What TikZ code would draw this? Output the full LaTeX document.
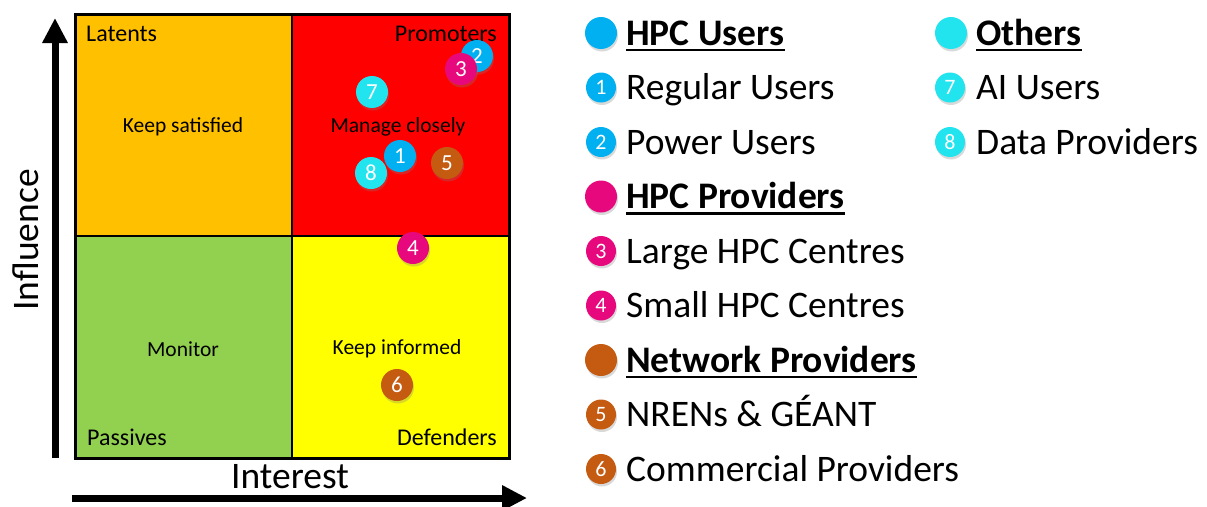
\documentclass[tikz,border=0pt]{standalone}
\usepackage{fontspec}
\setmainfont{Carlito}
\usetikzlibrary{arrows.meta,shadows}
\definecolor{qorange}{HTML}{FFC000}
\definecolor{qred}{HTML}{FF0000}
\definecolor{qgreen}{HTML}{92D050}
\definecolor{qyellow}{HTML}{FFFF00}
\definecolor{users}{HTML}{00B0F0}
\definecolor{providers}{HTML}{E8087E}
\definecolor{network}{HTML}{C55A11}
\definecolor{others}{HTML}{22E4EE}
\begin{document}
\begin{tikzpicture}[x=1pt,y=-1pt,
  quad/.style={draw=black,line width=2.5pt},
  axis/.style={line width=7pt,-{Triangle[length=25pt,width=24pt]}},
  ball/.style={circle,inner sep=0pt,text=white,
    drop shadow={shadow xshift=1pt,shadow yshift=-2.5pt,opacity=0.3}},
  dot/.style={ball,minimum size=32pt,font=\fontsize{23}{23}\selectfont},
  key/.style={ball,minimum size=30pt,font=\fontsize{22}{22}\selectfont},
  head/.style={ball,minimum size=32pt},
  item/.style={anchor=base west,inner sep=0pt,font=\fontsize{37.5}{37.5}\selectfont},
  title/.style={item,font=\fontsize{37.5}{37.5}\selectfont\bfseries},
  corner/.style={inner sep=0pt,font=\fontsize{24}{24}\selectfont},
  advice/.style={inner sep=0pt,font=\fontsize{21.5}{21.5}\selectfont},
]
\useasboundingbox (0,0) rectangle (1207,506);
%\draw [help lines, color=lightgray] (0,0) grid [step=50] (1207,506);

% the four quadrants
\fill [qorange] (75,14) rectangle (292,236);
\fill [qred]    (292,14) rectangle (509,236);
\fill [qgreen]  (75,236) rectangle (292,458);
\fill [qyellow] (292,236) rectangle (509,458);
\draw [line width=3pt] (75,14) rectangle (509,458);
\draw [quad] (292,14) -- (292,458);
\draw [quad] (75,236) -- (509,236);

\node [corner,anchor=base west] (latents)   at (86,41)  {Latents};
\node [corner,anchor=base east] (promoters) at (497,41) {Promoters};
\node [corner,anchor=base west] (passives)  at (87,445) {Passives};
\node [corner,anchor=base east] (defenders) at (497,445) {Defenders};
\node [advice] (satisfied) at (183,127) {Keep satisfied};
\node [advice] (closely)   at (398,127) {Manage closely};
\node [advice] (monitor)   at (183,349) {Monitor};
\node [advice] (informed)  at (397,349) {Keep informed};

% axes
\draw [axis] (55,458) coordinate (yfoot) -- (55,18) coordinate (ytip);
\draw [axis] (72,498) coordinate (xfoot) -- (527,498) coordinate (xtip);
\node [font=\fontsize{37.5}{37.5}\selectfont,rotate=90] (influence) at (26,240) {Influence};
\node [font=\fontsize{37.5}{37.5}\selectfont] (interest) at (290,477) {Interest};

% stakeholders in the grid
\node [dot,fill=users]     (dot2) at (477,56)  {2};
\node [dot,fill=providers] (dot3) at (461,69)  {3};
\node [dot,fill=others]    (dot7) at (372,92)  {7};
\node [dot,fill=users]     (dot1) at (400,156) {1};
\node [dot,fill=network]   (dot5) at (447,163) {5};
\node [dot,fill=others]    (dot8) at (371,173) {8};
\node [dot,fill=providers] (dot4) at (413,248) {4};
\node [dot,fill=network]   (dot6) at (397,385) {6};

% legend, first column
\node [head,fill=users]     (husers) at (601,33)  {};
\node [title] (tusers) at (626,45) {HPC Users};
\node [key,fill=users]      (k1) at (601,87.5) {1};
\node [item] (t1) at (626,99.5) {Regular Users};
\node [key,fill=users]      (k2) at (601,142) {2};
\node [item] (t2) at (626,154) {Power Users};
\node [head,fill=providers] (hproviders) at (601,196.5) {};
\node [title] (tproviders) at (626,208.5) {HPC Providers};
\node [key,fill=providers]  (k3) at (601,251) {3};
\node [item] (t3) at (626,263) {Large HPC Centres};
\node [key,fill=providers]  (k4) at (601,305.5) {4};
\node [item] (t4) at (626,317.5) {Small HPC Centres};
\node [head,fill=network]   (hnetwork) at (601,360) {};
\node [title] (tnetwork) at (626,372) {Network Providers};
\node [key,fill=network]    (k5) at (601,414.5) {5};
\node [item] (t5) at (626,426.5) {NRENs \& GÉANT};
\node [key,fill=network]    (k6) at (601,469) {6};
\node [item] (t6) at (626,481) {Commercial Providers};

% legend, second column
\node [head,fill=others]    (hothers) at (951,33) {};
\node [title] (tothers) at (976,45) {Others};
\node [key,fill=others]     (k7) at (950,87.5) {7};
\node [item] (t7) at (976,99.5) {AI Users};
\node [key,fill=others]     (k8) at (950,142) {8};
\node [item] (t8) at (976,154) {Data Providers};

% underlines of the group titles
\draw [line width=2.5pt] ([yshift=-5pt]tusers.base west) -- ([yshift=-5pt]tusers.base east);
\draw [line width=2.5pt] ([yshift=-5pt]tproviders.base west) -- ([yshift=-5pt]tproviders.base east);
\draw [line width=2.5pt] ([yshift=-5pt]tnetwork.base west) -- ([yshift=-5pt]tnetwork.base east);
\draw [line width=2.5pt] ([yshift=-5pt]tothers.base west) -- ([yshift=-5pt]tothers.base east);

\end{tikzpicture}
\end{document}
